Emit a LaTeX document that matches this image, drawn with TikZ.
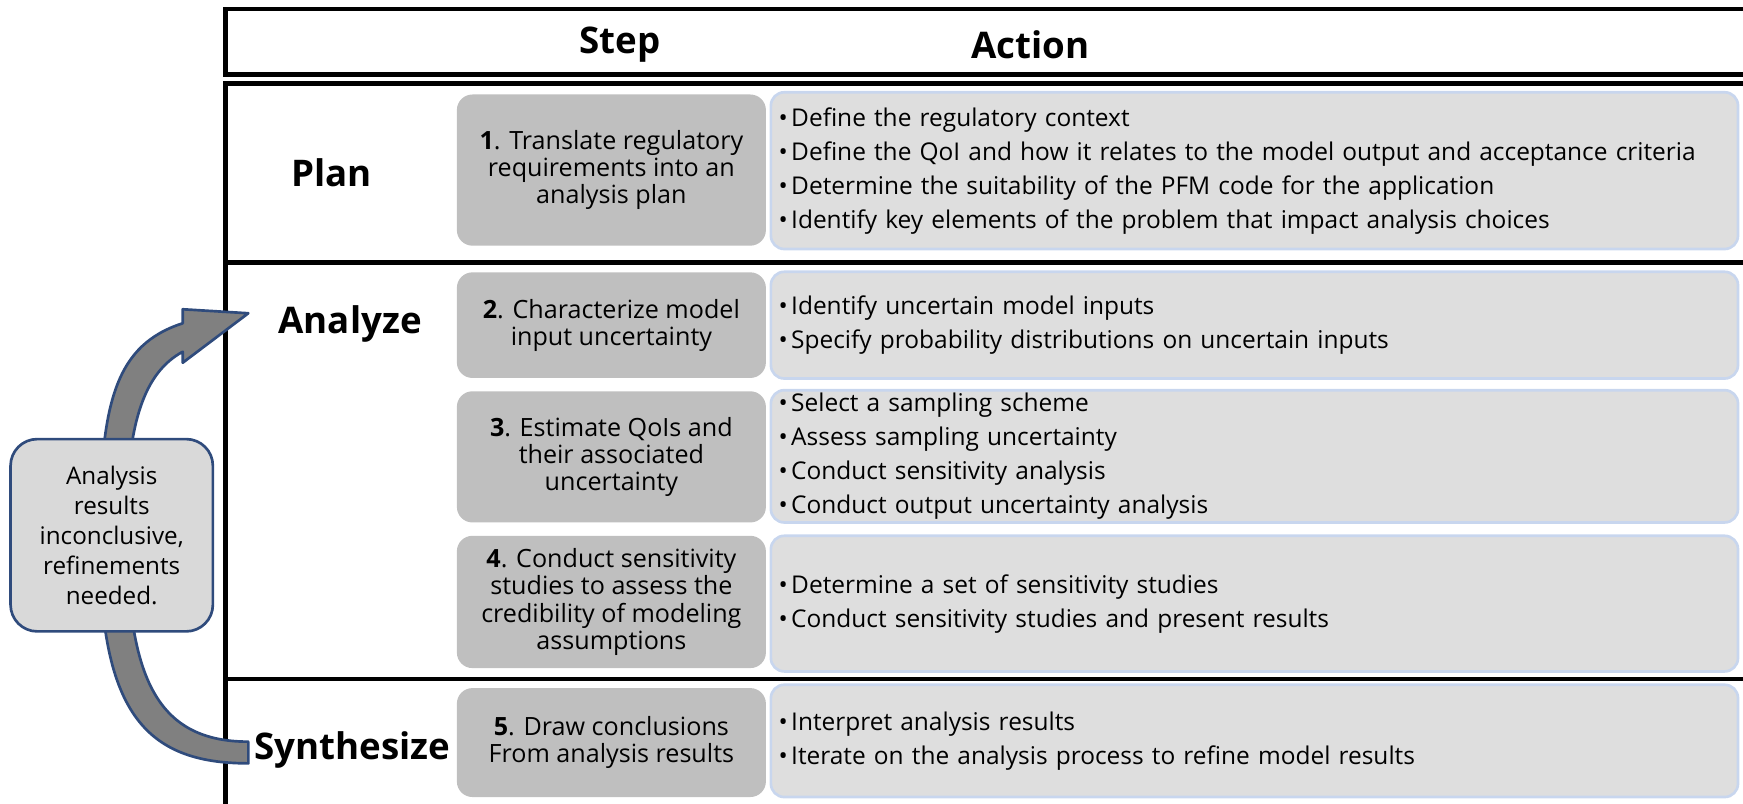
\documentclass[tikz,border=0pt]{standalone}
\usepackage{fontspec}
\setmainfont{Open Sans}
\usetikzlibrary{positioning}

\definecolor{stepgray}{HTML}{BFBFBF}
\definecolor{actgray}{HTML}{DEDEDE}
\definecolor{actedge}{HTML}{C8D6EE}
\definecolor{noteblue}{HTML}{2F4B7C}
\definecolor{notegray}{HTML}{D9D9D9}
\definecolor{loopgray}{HTML}{808080}

\tikzset{
  frame/.style={line width=2pt, black},
  phase/.style={font=\fontsize{16.5}{18}\selectfont\bfseries},
  stepbox/.style={fill=stepgray, rounded corners=7pt, minimum width=139pt,
    align=center, inner sep=0pt, font=\fontsize{11.3}{12.3}\selectfont},
  actbox/.style={fill=actgray, draw=actedge, line width=1.2pt, rounded corners=6pt,
    text width=428pt, inner xsep=3.5pt, inner ysep=0pt, align=left,
    font=\fontsize{11}{15.3}\selectfont},
  notebox/.style={fill=notegray, draw=noteblue, line width=1.2pt, rounded corners=12pt,
    minimum width=91pt, minimum height=86.5pt, align=center,
    font=\fontsize{10.9}{13.5}\selectfont},
  loop/.style={fill=loopgray, draw=noteblue, line width=1.2pt, line join=round},
}
\newcommand{\bul}{\textbullet\hspace{1.5pt}}

\begin{document}
\begin{tikzpicture}[x=0.5pt, y=-0.5pt]
  \useasboundingbox (0,0) rectangle (1568,723);
  \clip (0,0) rectangle (1568,723);

  % table frame
  \draw[frame] (203,8) rectangle (1600,67);
  \draw[frame] (1600,75) -- (203,75) -- (203,760);
  \draw[frame] (203,236) -- (1600,236);
  \draw[frame] (203,611) -- (1600,611);

  \node[phase] (hstep) at (558,40) {Step};
  \node[phase] (hact) at (927,40) {Action};

  % phases
  \node[phase] (plan) at (298,155) {Plan};
  \node[phase] (analyze) at (315,291) {Analyze};
  \node[phase] (synth) at (317,675) {Synthesize};

  % steps
  \node[stepbox, minimum height=68pt] (s1) at (550,153)
    {\textbf{1}. Translate regulatory\\requirements into an\\analysis plan};
  \node[stepbox, minimum height=47.5pt] (s2) at (550,292.5)
    {\textbf{2}. Characterize model\\input uncertainty};
  \node[stepbox, minimum height=59pt] (s3) at (550,411)
    {\textbf{3}. Estimate QoIs and\\their associated\\uncertainty};
  \node[stepbox, minimum height=59.5pt] (s4) at (550,541.5)
    {\textbf{4}. Conduct sensitivity\\studies to assess the\\credibility of modeling\\assumptions};
  \node[stepbox, minimum height=49pt] (s5) at (550,668)
    {\textbf{5}. Draw conclusions\\From analysis results};

  % actions
  \node[actbox, minimum height=70.5pt] (a1) at (1128.5,153.5)
    {\bul Define the regulatory context\\
     \bul Define the QoI and how it relates to the model output and acceptance criteria\\
     \bul Determine the suitability of the PFM code for the application\\
     \bul Identify key elements of the problem that impact analysis choices};
  \node[actbox, minimum height=48pt] (a2) at (1128.5,292.5)
    {\bul Identify uncertain model inputs\\
     \bul Specify probability distributions on uncertain inputs};
  \node[actbox, minimum height=59.5pt] (a3) at (1128.5,410.5)
    {\bul Select a sampling scheme\\
     \bul Assess sampling uncertainty\\
     \bul Conduct sensitivity analysis\\
     \bul Conduct output uncertainty analysis};
  \node[actbox, minimum height=61pt] (a4) at (1128.5,543)
    {\bul Determine a set of sensitivity studies\\
     \bul Conduct sensitivity studies and present results};
  \node[actbox, minimum height=50.5pt] (a5) at (1128.5,666.5)
    {\bul Interpret analysis results\\
     \bul Iterate on the analysis process to refine model results};

  % feedback loop from Synthesize back to Analyze
  \draw[loop] (223.4,686.7) .. controls (130,686.7) and (88,640) .. (90,480)
    .. controls (90,360) and (105,310) .. (164.4,290.8)
    -- (164.4,278.2) -- (223.4,281.8) -- (164.4,326.3) -- (164.4,316.4)
    .. controls (130,335) and (114,380) .. (114,470)
    .. controls (114,600) and (135,667.2) .. (223.4,667.2) -- cycle;
  \node[notebox] (note) at (100.5,481.5)
    {Analysis\\results\\inconclusive,\\refinements\\needed.};
\end{tikzpicture}
\end{document}
